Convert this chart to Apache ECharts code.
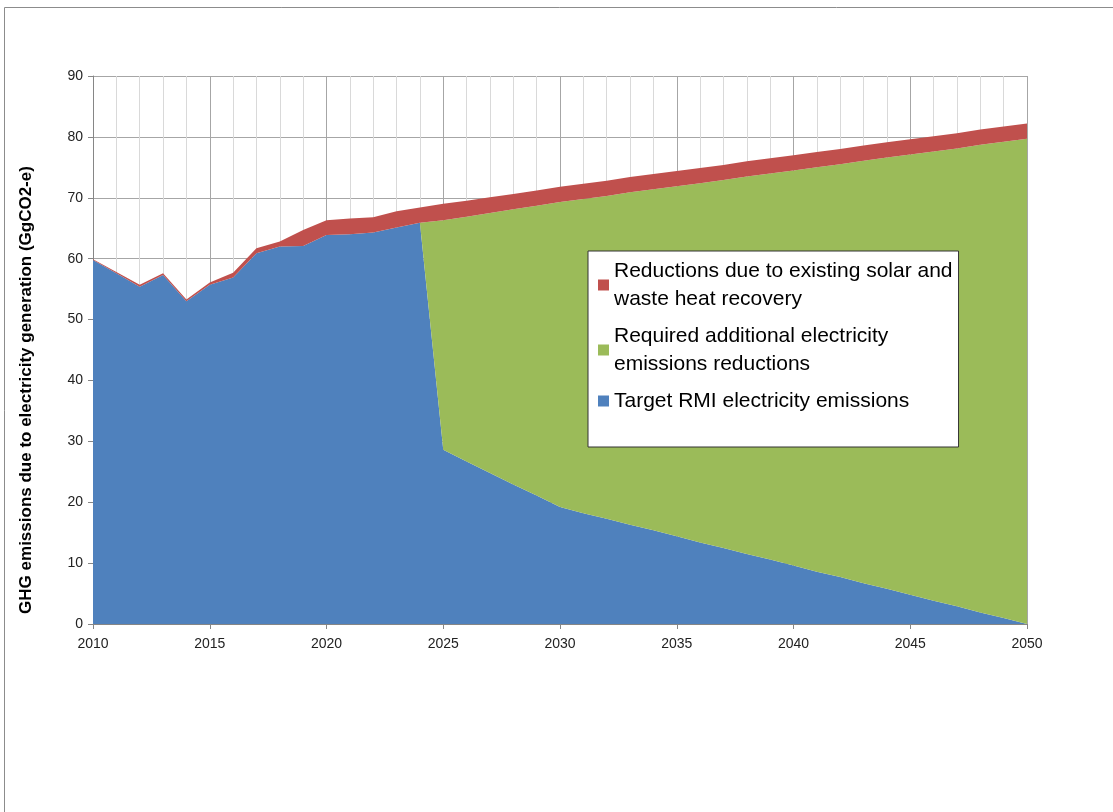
<!DOCTYPE html>
<html>
<head>
<meta charset="utf-8">
<title>GHG emissions due to electricity generation</title>
<script src="https://cdn.jsdelivr.net/npm/echarts@6/dist/echarts.min.js"></script>
<style>
  html, body { margin: 0; padding: 0; background: #fff; }
  #main { width: 1113px; height: 812px; }
</style>
</head>
<body>
<div id="main"></div>
<script>
// years 2010 .. 2050
var years = [];
for (var y = 2010; y <= 2050; y++) { years.push(String(y)); }

// Target RMI electricity emissions
var target = [59.8, 57.6, 55.4, 57.3, 53.0, 55.7, 56.9, 60.9, 62.0, 62.1,
              63.9, 64.0, 64.3, 65.1, 65.9, 28.6, 26.7, 24.8, 22.9, 21.1,
              19.2, 18.2, 17.3, 16.3, 15.4, 14.4, 13.4, 12.5, 11.5, 10.6,
              9.6, 8.6, 7.7, 6.7, 5.8, 4.8, 3.8, 2.9, 1.9, 1.0,
              0];

// Required additional electricity emissions reductions
var required = [0, 0, 0, 0, 0, 0, 0, 0, 0, 0,
                0, 0, 0, 0, 0, 37.7, 40.2, 42.7, 45.2, 47.6,
                50.1, 51.6, 53.0, 54.6, 56.0, 57.5, 59.0, 60.4, 62.0, 63.4,
                64.9, 66.4, 67.8, 69.4, 70.8, 72.3, 73.8, 75.2, 76.8, 78.2,
                79.7];

// Reductions due to existing solar and waste heat recovery
var existing = [0.1, 0.2, 0.3, 0.3, 0.3, 0.4, 0.8, 0.8, 0.8, 2.6,
                2.4, 2.6, 2.5, 2.7, 2.5, 2.7, 2.6, 2.6, 2.5, 2.5,
                2.5, 2.5, 2.5, 2.5, 2.5, 2.5, 2.5, 2.5, 2.5, 2.5,
                2.5, 2.5, 2.5, 2.5, 2.5, 2.5, 2.5, 2.5, 2.5, 2.5,
                2.5];

var names = ['Target RMI electricity emissions',
             'Required additional electricity emissions reductions',
             'Reductions due to existing solar and waste heat recovery'];
var wrapped = {};
wrapped[names[0]] = 'Target RMI electricity emissions';
wrapped[names[1]] = 'Required additional electricity\nemissions reductions';
wrapped[names[2]] = 'Reductions due to existing solar and\nwaste heat recovery';

function area(name, vals, color) {
    return {
        name: name,
        type: 'line',
        stack: 'total',
        symbol: 'none',
        showSymbol: false,
        lineStyle: { width: 0 },
        areaStyle: { color: color, opacity: 1 },
        itemStyle: { color: color },
        data: vals
    };
}

var myChart = echarts.init(document.getElementById('main'));

var option = {
    animation: false,
    textStyle: { fontFamily: 'Liberation Sans, Arial, sans-serif' },
    graphic: [{
        type: 'rect',
        shape: { x: 4.5, y: 7.5, width: 1200, height: 900 },
        style: { fill: 'none', stroke: '#8c8c8c', lineWidth: 1 },
        silent: true
    }],
    grid: { left: 93, right: 86, top: 76, bottom: 188 },
    legend: {
        orient: 'vertical',
        left: 588,
        top: 251,
        data: [names[2], names[1], names[0]],
        formatter: function (n) { return wrapped[n]; },
        icon: 'rect',
        itemWidth: 11,
        itemHeight: 11,
        itemGap: 9,
        padding: [6, 6, 32, 10],
        backgroundColor: '#fff',
        borderColor: '#333',
        borderWidth: 1,
        textStyle: { fontSize: 21, color: '#000', lineHeight: 28 }
    },
    xAxis: {
        type: 'category',
        boundaryGap: false,
        data: years,
        axisLine: { show: true, lineStyle: { color: '#868686' } },
        axisTick: { show: true, interval: 4, length: 5, lineStyle: { color: '#868686' } },
        axisLabel: { interval: 4, color: '#222', fontSize: 14, margin: 13 },
        splitLine: {
            show: true,
            interval: 0,
            lineStyle: { color: ['#a6a6a6', '#d9d9d9', '#d9d9d9', '#d9d9d9', '#d9d9d9'] }
        }
    },
    yAxis: {
        type: 'value',
        min: 0,
        max: 90,
        interval: 10,
        name: 'GHG emissions due to electricity generation (GgCO2-e)',
        nameLocation: 'middle',
        nameGap: 58,
        nameTextStyle: { fontSize: 17, fontWeight: 'bold', color: '#000', padding: [0, 80, 0, 0] },
        axisLine: { show: true, lineStyle: { color: '#868686' } },
        axisTick: { show: true, length: 5, lineStyle: { color: '#868686' } },
        axisLabel: { color: '#222', fontSize: 14, margin: 10 },
        splitLine: { show: true, lineStyle: { color: '#a6a6a6' } }
    },
    series: [
        area(names[0], target, '#4f81bd'),
        area(names[1], required, '#9bbb59'),
        area(names[2], existing, '#c0504d')
    ]
};

myChart.setOption(option);
</script>
</body>
</html>
